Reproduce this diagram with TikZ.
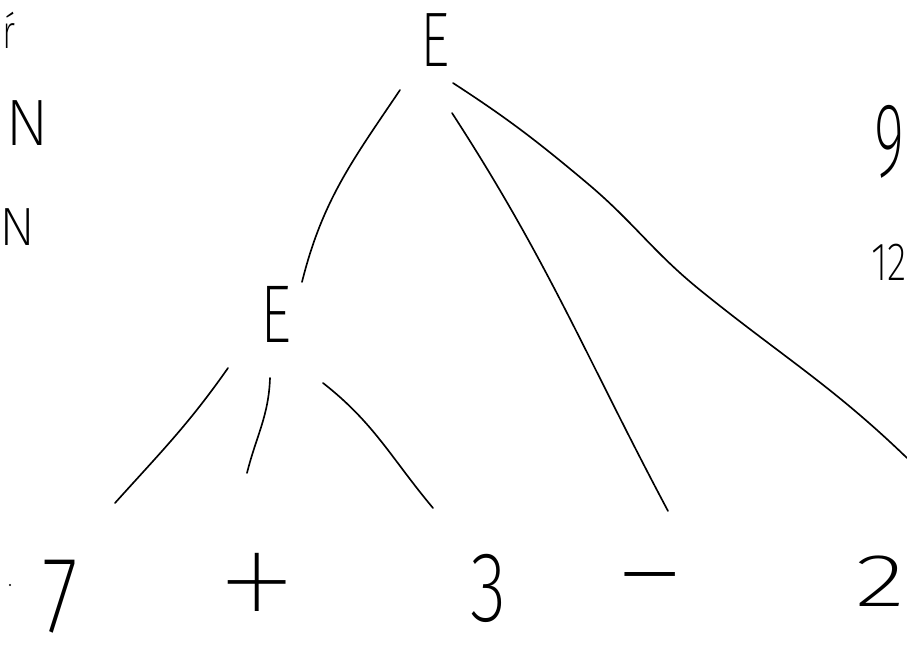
\documentclass[tikz,border=0pt]{standalone}
\usepackage{fontspec}
\usepackage{graphicx}
\usetikzlibrary{calc}
\newfontfamily\hand[FakeStretch=0.75]{Fira Sans ExtraLight}
\newfontfamily\handw{Fira Sans ExtraLight}
\newfontfamily\handthin{Fira Sans Thin}
\tikzset{
  hw/.style={inner sep=0pt, anchor=center},
  edge/.style={line width=1.4pt, line cap=round},
}
\begin{document}
\begin{tikzpicture}[x=0.03cm,y=0.03cm]
\useasboundingbox (0,0) rectangle (907,-644);
% nodes
\node[hw] (E1) at (435,-40) {\hand\fontsize{66}{66}\selectfont E};
\node[hw] (E2) at (276,-314) {\hand\fontsize{70}{70}\selectfont E};
\node[hw] (n7) at (60,-597) {\hand\fontsize{93}{93}\selectfont 7};
\node[hw] (plus) at (257,-597) {\handthin\fontsize{150}{150}\selectfont +};
\node[hw] (three) at (488,-588) {\hand\fontsize{85}{85}\selectfont 3};
\node[hw] (minus) at (650,-589) {\handw\fontsize{80}{80}\selectfont\scalebox{1.55}[1]{−}};
\node[hw] (two) at (880,-581) {\handw\fontsize{64}{64}\selectfont\scalebox{1.4}[1]{2}};
\node[hw] (nine) at (889,-142) {\handw\fontsize{90}{90}\selectfont\scalebox{0.55}[1]{9}};
\node[hw] (twelve) at (889,-262) {\hand\fontsize{46}{46}\selectfont 12};
\node[hw] (N1) at (27,-123) {\handw\fontsize{56}{56}\selectfont N};
\node[hw] (N2) at (18,-227) {\handw\fontsize{46}{46}\selectfont N};
\node[hw] (frag) at (9,-30) {\hand\fontsize{40}{40}\selectfont ŕ};
\fill (10,-585) circle (1.2);
% connectors
\draw[edge] ($(E1)+(-35,-50)$) to[out=236,in=76] ($(E2)+(26,32)$);
\draw[edge] ($(E1)+(17,-73)$) to[out=-57,in=118] ($(minus)+(18,78)$);
\draw[edge] ($(E1)+(18,-43)$) to[out=-33,in=140] ($(E1)+(152,-143)$)
  to[out=-40,in=141] ($(E1)+(265,-250)$)
  to[out=-39,in=136] ($(two)+(27,123)$);
\draw[edge] ($(E2)+(-48,-54)$) to[out=235,in=48] ($(n7)+(55,94)$);
\draw[edge] ($(E2)+(-6,-64)$) to[out=268,in=76] ($(plus)+(-10,124)$);
\draw[edge] ($(E2)+(47,-69)$) to[out=-38,in=130] ($(three)+(-55,80)$);
\end{tikzpicture}
\end{document}
